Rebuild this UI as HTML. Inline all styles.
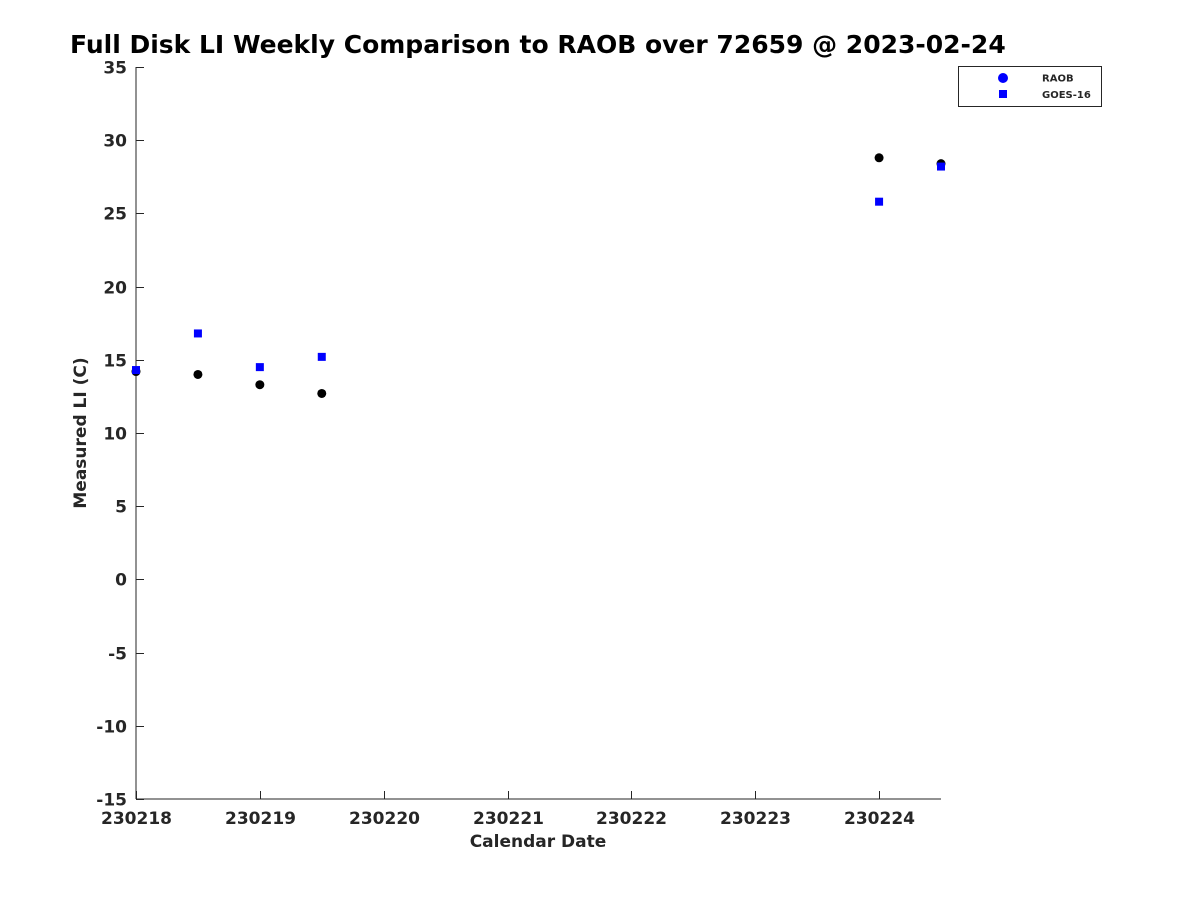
<!DOCTYPE html>
<html><head><meta charset="utf-8"><style>
body{margin:0;background:#fff;}
svg text{font-family:"DejaVu Sans","Liberation Sans",sans-serif;font-weight:bold;fill:#262626;}
</style></head><body>
<svg id="chart" width="1200" height="900" xmlns="http://www.w3.org/2000/svg">
<text x="70" y="53" font-size="25" style="fill:#000">Full Disk LI Weekly Comparison to RAOB over 72659 @ 2023-02-24</text>
<g id="axes"></g>
<g id="marks"></g>
<g>
<rect x="958.5" y="66.5" width="143" height="40" fill="#fff" stroke="#262626"/>
<circle cx="1003" cy="78" r="5" fill="#0000ff"/>
<text x="1042" y="81.5" font-size="10">RAOB</text>
<rect x="999" y="90" width="8" height="8" fill="#0000ff"/>
<text x="1042" y="98" font-size="10">GOES-16</text>
</g>
<text x="538" y="847" font-size="17" text-anchor="middle">Calendar Date</text>
<text transform="translate(86,433) rotate(-90)" font-size="17" text-anchor="middle">Measured LI (C)</text>
</svg>
<script>
const xDays=[0,0.5,1,1.5,6,6.5];
const raob=[14.2,14.0,13.3,12.7,28.8,28.4];
const goes=[14.3,16.8,14.5,15.2,25.8,28.2];
const xTickLabels=["230218","230219","230220","230221","230222","230223","230224"];
const yTicks=[35,30,25,20,15,10,5,0,-5,-10,-15];
const NS="http://www.w3.org/2000/svg";
const X0=136,X1=941,Y0=67,Y1=799;
const xs=d=>X0+d*(X1-X0)/6.5;
const ys=v=>Y0+(35-v)*(Y1-Y0)/50;
const axes=document.getElementById('axes'),marks=document.getElementById('marks');
function mk(t,a,p){const e=document.createElementNS(NS,t);for(const k in a)e.setAttribute(k,a[k]);p.appendChild(e);return e;}
let l=mk('line',{x1:X0,y1:Y0,x2:X0,y2:Y1,stroke:'#262626'},axes);


l=mk('line',{x1:X0,y1:Y1,x2:X1,y2:Y1,stroke:'#262626'},axes);


yTicks.forEach(v=>{const y=Math.round(ys(v))+0.5;
mk('line',{x1:X0,y1:y,x2:X0+8,y2:y,stroke:'#262626'},axes);
const t=mk('text',{x:X0-9,y:y+6,'font-size':17,'text-anchor':'end'},axes);t.textContent=v;

});
xTickLabels.forEach((s,i)=>{const x=Math.round(xs(i))+0.5;
mk('line',{x1:x,y1:Y1,x2:x,y2:Y1-8,stroke:'#262626'},axes);
const t=mk('text',{x:x,y:824,'font-size':17,'text-anchor':'middle'},axes);t.textContent=s;

});
xDays.forEach((d,i)=>{const c=mk('circle',{cx:xs(d),cy:ys(raob[i]),r:4.5,fill:'#000'},marks);

});
xDays.forEach((d,i)=>{const r=mk('rect',{x:xs(d)-4,y:ys(goes[i])-4,width:8,height:8,fill:'#0000ff'},marks);

});
</script>
</body></html>
